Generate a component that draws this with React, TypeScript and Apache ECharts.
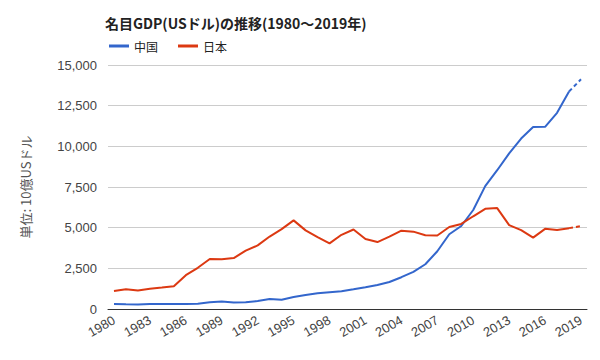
import React, { useEffect, useRef } from "react";
import * as echarts from "echarts";

const years = [
  "1980","1981","1982","1983","1984","1985","1986","1987","1988","1989",
  "1990","1991","1992","1993","1994","1995","1996","1997","1998","1999",
  "2000","2001","2002","2003","2004","2005","2006","2007","2008","2009",
  "2010","2011","2012","2013","2014","2015","2016","2017","2018","2019",
];
const china = [
  303, 289, 283, 304, 315, 310, 301, 327, 408, 457,
  397, 414, 493, 617, 564, 734, 864, 962, 1029, 1094,
  1211, 1339, 1471, 1660, 1955, 2286, 2752, 3550, 4594, 5102,
  6087, 7552, 8532, 9570, 10476, 11190, 11200, 12060, 13370, 14120,
];
const japan = [
  1105, 1218, 1134, 1243, 1318, 1398, 2078, 2532, 3072, 3054,
  3133, 3584, 3909, 4454, 4907, 5449, 4833, 4415, 4032, 4562,
  4888, 4304, 4115, 4446, 4815, 4755, 4530, 4515, 5038, 5231,
  5700, 6157, 6203, 5156, 4850, 4389, 4927, 4860, 4971, 5100,
];
const yTicks = { min: 0, max: 15000, interval: 2500 };
const estimateFrom = 38; // last segment drawn dashed

const FONT = "Arial, 'Liberation Sans', 'Noto Sans CJK JP', sans-serif";
const CJK = "'Noto Sans CJK JP', sans-serif";

function solidPart(arr: number[]) {
  return arr.map((v, i) => (i <= estimateFrom ? v : null));
}
function dashedPart(arr: number[]) {
  return arr.map((v, i) => (i >= estimateFrom ? v : null));
}

export default function App() {
  const ref = useRef<HTMLDivElement>(null);
  useEffect(() => {
    if (!ref.current) return;
    const chart = echarts.init(ref.current, undefined, { renderer: "svg" });
    chart.setOption({
      animation: false,
      textStyle: { fontFamily: FONT },
      title: {
        text: "名目GDP(USドル)の推移(1980～2019年)",
        left: 100,
        top: 11,
        textStyle: { fontSize: 14, fontWeight: "bold", color: "#222", fontFamily: CJK },
      },
      legend: {
        data: ["中国", "日本"],
        left: 104,
        top: 35,
        icon: "rect",
        itemWidth: 20,
        itemHeight: 3,
        itemGap: 20,
        textStyle: { fontSize: 12, color: "#222", fontFamily: CJK },
      },
      grid: { left: 108, right: 13, top: 65, bottom: 51 },
      xAxis: {
        type: "category",
        data: years,
        boundaryGap: true,
        axisLine: { lineStyle: { color: "#333", width: 1 } },
        axisTick: { show: false },
        axisLabel: {
          interval: 2,
          rotate: 30,
          color: "#444",
          fontSize: 13,
          margin: 10,
        },
      },
      yAxis: {
        type: "value",
        min: yTicks.min,
        max: yTicks.max,
        interval: yTicks.interval,
        name: "単位: 10億USドル",
        nameLocation: "middle",
        nameGap: 76,
        nameTextStyle: { color: "#555", fontSize: 13, fontFamily: CJK },
        axisLine: { show: false },
        axisTick: { show: false },
        splitLine: { lineStyle: { color: "#ccc" } },
        axisLabel: {
          color: "#444",
          fontSize: 13,
          margin: 11,
          formatter: (v: number) => v.toLocaleString("en-US"),
        },
      },
      series: [
        {
          name: "中国",
          type: "line",
          data: solidPart(china),
          showSymbol: false,
          color: "#3366cc",
          lineStyle: { width: 2, color: "#3366cc" },
        },
        {
          name: "日本",
          type: "line",
          data: solidPart(japan),
          showSymbol: false,
          color: "#dc3912",
          lineStyle: { width: 2, color: "#dc3912" },
        },
        {
          name: "中国(推計)",
          type: "line",
          data: dashedPart(china),
          showSymbol: false,
          color: "#3366cc",
          lineStyle: { width: 2, color: "#3366cc", type: [4, 3] },
        },
        {
          name: "日本(推計)",
          type: "line",
          data: dashedPart(japan),
          showSymbol: false,
          color: "#dc3912",
          lineStyle: { width: 2, color: "#dc3912", type: [4, 3] },
        },
      ],
    });
    return () => chart.dispose();
  }, []);
  return <div ref={ref} style={{ width: 600, height: 360, position: "absolute", left: 0, top: 0 }} />;
}
